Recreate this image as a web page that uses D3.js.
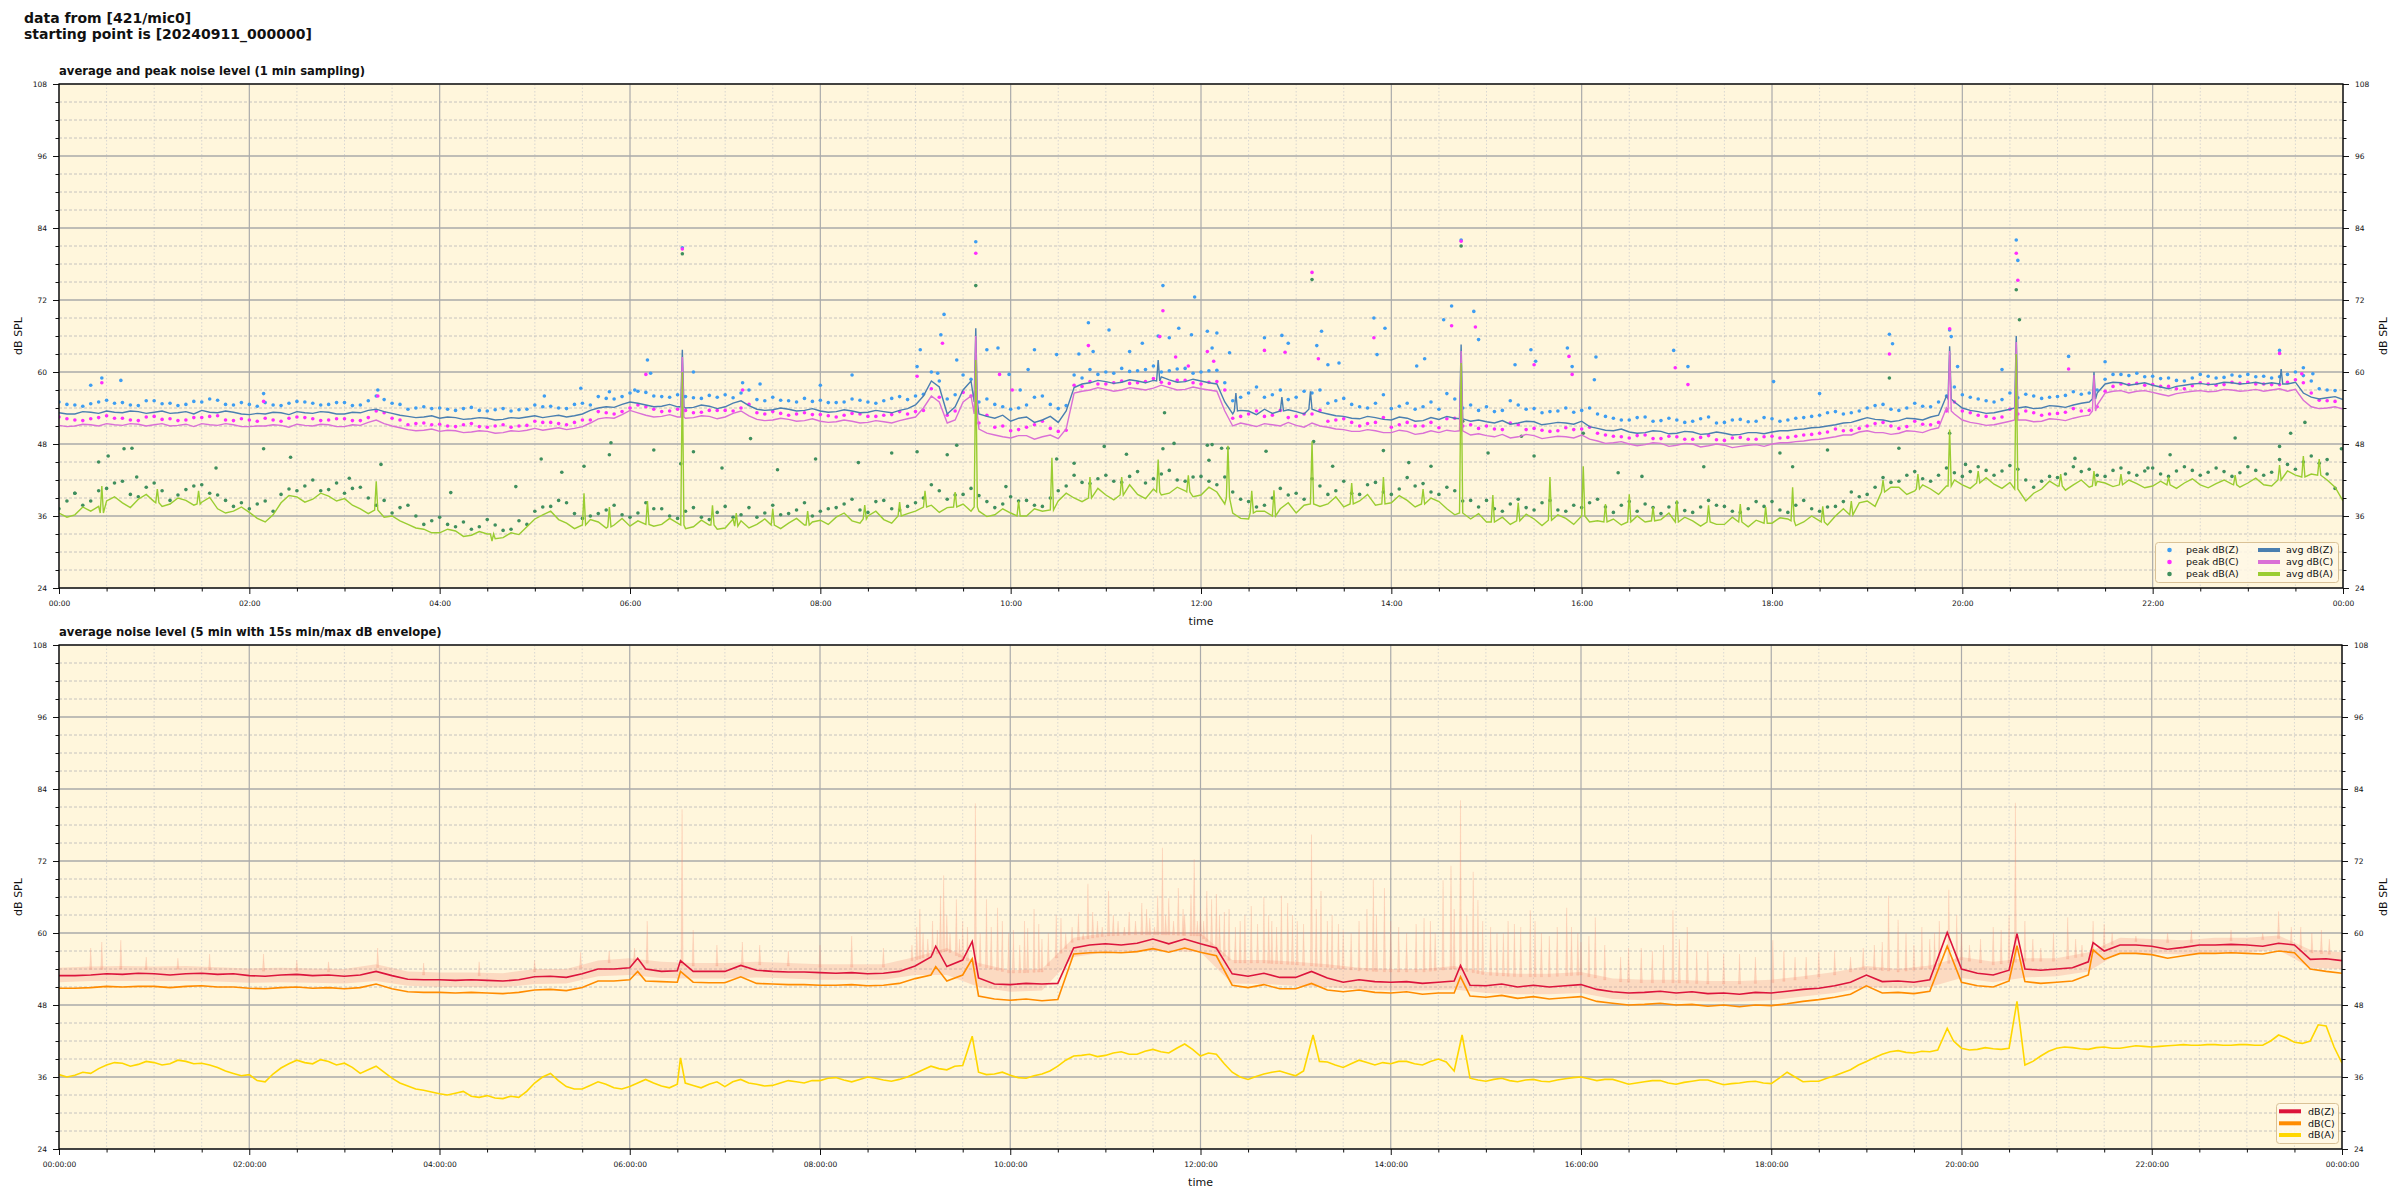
<!DOCTYPE html>
<html><head><meta charset="utf-8">
<script src="https://cdn.jsdelivr.net/npm/d3@7"></script>
<style>body{margin:0;background:#fff}svg{display:block}text{font-family:"DejaVu Sans",sans-serif;fill:#111}</style>
</head><body><svg id="c" width="2400" height="1200"></svg>
<script>
// ---------------- DATA (minutes since 00:00, dB) ----------------
const yTicks = [24, 36, 48, 60, 72, 84, 96, 108];
const xTickMinutes = [0, 120, 240, 360, 480, 600, 720, 840, 960, 1080, 1200, 1320, 1440];
const topXLabels = ["00:00","02:00","04:00","06:00","08:00","10:00","12:00","14:00","16:00","18:00","20:00","22:00","00:00"];
const botXLabels = ["00:00:00","02:00:00","04:00:00","06:00:00","08:00:00","10:00:00","12:00:00","14:00:00","16:00:00","18:00:00","20:00:00","22:00:00","00:00:00"];

// top panel: 1-min averages, read at every 10 min (00:00 .. 24:00)
const avgZ = [
53.2,53.0,53.3,53.5,53.2,53.4, 53.3,53.1,53.4,53.6,53.2,53.3, 52.9,53.0,53.2,53.4,53.1,53.3,
53.0,53.2,53.8,53.1,52.6,52.5, 52.3,52.4,52.2,52.3,52.1,52.3, 52.7,52.6,52.5,53.0,54.0,54.1,
55.0,54.5,54.3,54.2,54.1,54.3, 54.2,55.2,53.8,53.7,53.8,53.6, 53.5,53.4,53.5,53.3,53.4,53.6,
54.5,58.5,53.0,57.0,53.0,52.3, 51.8,52.5,52.0,51.6,57.4,58.2, 58.4,58.3,58.5,58.6,58.7,58.4,
58.5,58.0,53.0,53.5,53.8,53.2, 53.4,54.0,53.0,52.6,52.2,52.4, 52.0,52.3,51.9,52.1,52.3,51.8,
51.7,51.9,51.5,51.7,51.4,51.5, 51.8,50.6,50.2,50.0,49.9,50.1, 49.8,50.0,49.7,49.8,49.6,49.9,
50.0,50.2,50.5,50.8,51.2,51.6, 52.4,52.0,51.9,52.2,52.5,56.0, 54.0,53.4,53.2,53.8,54.2,54.0,
54.3,54.5,55.0,58.0,58.2,58.0, 57.8,57.2,57.8,58.1,58.0,58.2, 58.1,58.0,58.4,58.3,55.8,55.7, 55.4];
// ... and at the 5-min marks in between (00:05 .. 23:55)
const avgZMid = [
53.0,53.4,53.1,53.3,53.5,53.1, 53.5,53.2,53.0,53.3,53.5,53.0, 53.1,53.3,52.9,53.2,53.4,53.0,
53.3,53.6,53.4,52.8,52.4,52.7, 52.5,52.1,52.4,52.0,52.4,52.5, 52.4,52.8,52.7,53.6,54.2,54.6,
54.8,54.2,54.6,54.0,54.5,53.9, 54.8,54.4,53.6,54.0,53.5,53.9, 53.3,53.7,53.2,53.6,53.2,53.9,
56.0,57.5,54.2,58.5,52.6,52.8, 52.3,51.6,52.6,53.5,58.0,58.6, 58.1,58.7,58.2,59.2,58.3,58.8,
58.2,55.0,53.6,52.9,53.1,53.7, 53.0,53.3,52.7,52.3,52.6,52.1, 52.5,51.8,52.4,52.6,51.6,52.0,
51.5,51.3,51.8,51.2,51.6,51.3, 50.9,50.3,50.5,49.8,50.2,49.7, 50.1,49.6,50.0,49.5,49.9,49.7,
50.2,50.4,50.7,51.0,51.5,52.0, 52.1,51.7,52.3,52.0,52.8,55.0, 53.6,53.1,53.5,54.5,53.9,54.4,
54.1,54.8,56.5,58.3,57.8,58.2, 57.5,57.6,58.0,57.9,58.3,58.0, 58.3,58.2,58.0,56.5,55.5,55.9];
const avgC = [
51.1,51.0,51.2,51.4,51.1,51.3, 51.2,51.0,51.3,51.4,51.1,51.2, 50.9,51.0,51.1,51.3,51.0,51.2,
50.9,51.1,52.0,51.0,50.4,50.3, 50.1,50.2,50.0,50.1,49.9,50.1, 50.6,50.5,50.4,50.9,52.2,52.3,
53.6,52.8,52.6,52.5,52.4,52.6, 52.5,53.5,52.1,52.0,52.1,51.9, 51.8,51.7,51.8,51.6,51.7,51.9,
52.5,56.0,51.5,55.0,50.5,49.5, 49.0,49.4,49.2,48.9,56.5,57.0, 57.1,57.0,57.2,57.3,57.4,57.1,
57.2,56.8,51.0,51.2,51.4,51.0, 51.1,51.5,50.8,50.4,50.1,50.2, 49.9,50.1,49.8,49.9,50.1,49.5,
49.4,49.6,49.2,49.4,49.1,49.2, 49.5,48.5,48.2,48.0,47.9,48.1, 47.8,48.0,47.7,47.8,47.6,47.9,
48.0,48.2,48.5,48.8,49.2,49.5, 50.2,49.9,49.8,50.1,50.4,54.0, 52.0,51.4,51.2,51.8,52.0,51.8,
52.1,52.3,52.8,56.5,56.9,56.8, 56.6,56.0,56.6,56.9,56.8,57.0, 56.9,56.8,57.2,57.1,54.2,54.0, 53.8];
const avgCMid = [
50.9,51.3,51.0,51.2,51.4,51.0, 51.4,51.1,50.9,51.2,51.4,50.9, 51.0,51.2,50.8,51.1,51.3,50.9,
51.2,51.6,51.4,50.7,50.2,50.5, 50.3,49.9,50.2,49.8,50.2,50.3, 50.3,50.7,50.6,51.5,52.4,52.9,
53.2,52.5,52.9,52.3,52.7,52.2, 53.1,52.7,51.9,52.3,51.8,52.2, 51.6,52.0,51.5,51.9,51.5,52.2,
54.0,55.0,52.0,56.0,49.8,49.2, 49.4,48.8,49.5,50.5,56.8,57.4, 56.8,57.4,57.0,57.8,57.0,57.5,
57.0,53.5,51.5,50.9,51.2,51.6, 50.8,51.0,50.5,50.1,50.4,49.9, 50.3,49.6,50.2,50.3,49.4,49.7,
49.2,49.0,49.6,48.9,49.3,49.0, 48.8,48.1,48.4,47.7,48.2,47.6, 48.1,47.5,48.0,47.4,47.8,47.6,
48.2,48.4,48.7,49.0,49.5,50.0, 49.9,49.6,50.2,49.9,50.7,53.0, 51.6,51.1,51.5,52.5,51.7,52.2,
51.9,52.6,54.5,56.8,56.5,56.9, 56.3,56.4,56.8,56.7,57.1,56.8, 57.1,57.0,56.8,55.3,53.9,54.2];
const avgA = [
36.5,36.2,36.8,38.5,38.2,38.8, 38.4,38.0,38.6,38.3,37.2,36.8, 36.6,35.0,38.2,39.2,38.8,39.3,
38.9,37.2,37.0,36.0,34.6,33.8, 33.2,33.5,32.8,33.0,32.4,32.9, 35.5,36.8,34.8,34.2,35.0,34.5,
34.3,35.5,34.6,34.8,34.2,34.5, 34.0,35.2,34.6,34.3,34.8,34.5, 35.3,35.8,35.2,36.0,35.4,35.6,
36.8,37.8,37.4,38.0,36.8,36.2, 36.5,36.0,36.8,38.5,39.0,39.8, 39.5,40.2,39.6,40.5,39.8,40.2,
39.5,40.0,36.5,35.5,36.8,37.2, 36.5,38.8,38.0,37.5,38.5,37.8, 38.2,38.6,37.8,38.4,36.2,35.5,
35.0,35.8,35.2,35.5,35.0,35.6, 36.0,35.2,35.5,34.8,35.0,35.4, 34.8,35.2,35.5,34.6,35.0,35.3,
34.8,35.5,35.0,35.2,36.0,37.0, 38.5,39.5,40.8,40.2,40.5,41.0, 41.2,41.5,41.3,41.6,38.5,40.5,
41.0,41.2,40.8,41.5,41.2,41.4, 41.0,41.3,41.5,41.2,41.4,41.3, 41.5,41.2,42.5,42.8,43.0,42.0, 38.5];
const avgAMid = [
35.8,37.5,37.6,39.2,37.4,39.6, 37.6,39.0,37.8,39.1,36.5,37.5, 35.6,36.2,39.4,38.3,39.8,38.5,
37.8,36.4,35.8,35.2,34.0,33.2, 33.8,32.6,33.4,32.2,33.2,34.2, 36.2,35.4,33.9,35.4,34.0,35.6,
35.2,34.3,35.6,33.9,35.3,33.8, 35.5,34.0,35.5,33.9,35.6,35.0, 34.6,36.5,34.8,36.8,34.8,36.4,
37.8,36.6,38.6,36.8,35.9,37.2, 35.8,37.2,35.9,39.8,38.4,40.6, 38.7,41.2,38.9,39.5,40.8,39.2,
40.8,38.0,35.6,36.8,35.8,38.2, 37.8,37.6,39.2,36.6,39.6,37.0, 39.4,37.5,39.0,37.2,35.0,36.4,
36.2,34.6,36.3,34.4,36.2,34.6, 35.0,36.4,34.5,36.0,34.2,36.5, 35.8,34.3,34.6,35.8,34.2,36.2,
35.7,34.4,36.0,34.5,37.2,38.2, 37.6,40.8,39.6,41.2,39.6,42.0, 40.6,42.4,40.6,42.5,39.8,41.8,
40.3,42.0,41.8,40.9,42.0,40.7, 41.8,40.6,42.2,40.7,42.0,40.8, 42.3,41.0,43.5,41.8,44.0,40.8];
// short events in the 1-min averages: [minute, level around, peak]
const avgZEvents = [[393,54.2,63.7],[578,55.0,67.3],[693,58.5,62.0],[742,53.5,56.5],[771,53.5,55.8],[789,53.8,56.8],[884,52.2,64.6],[1192,55.5,64.3],[1234,54.0,66.0],[1283,55.5,60.0],[1401,58.0,60.5]];
const avgCEvents = [[393,52.5,62.5],[578,53.0,66.0],[884,50.2,63.5],[1192,53.5,63.5],[1234,52.0,65.0],[1283,53.5,59.5]];
const avgAEvents = [[27,36.5,41.0],[62,38.2,40.5],[88,38.0,40.2],[200,37.0,41.8],[273,33.0,31.8],[331,34.5,39.8],[347,34.2,37.5],[371,34.6,38.5],[393,34.5,60.0],[412,34.5,37.8],[427,34.3,36.5],[450,34.5,37.2],[472,34.5,36.8],[508,35.5,37.8],[530,36.0,38.3],[546,37.5,40.2],[565,37.5,40.0],[578,37.5,62.0],[605,36.0,38.5],[626,37.0,45.7],[650,39.0,42.5],[670,39.5,42.5],[693,40.0,45.4],[712,40.0,42.8],[737,39.0,47.7],[752,36.5,40.2],[766,36.0,40.3],[790,38.0,48.4],[815,38.0,41.5],[835,38.0,42.5],[860,38.0,40.5],[884,36.5,61.5],[904,35.0,39.5],[920,35.2,38.2],[940,35.3,42.5],[961,36.0,44.3],[975,35.0,38.0],[990,35.0,39.6],[1005,35.2,37.5],[1020,35.0,38.6],[1040,35.0,37.8],[1060,35.0,38.0],[1076,34.8,37.5],[1093,35.2,40.8],[1112,35.0,37.6],[1130,36.2,38.5],[1150,40.0,42.0],[1172,40.5,43.0],[1192,41.0,50.4],[1210,41.5,43.5],[1234,40.5,63.0],[1262,41.0,43.0],[1283,41.0,43.5],[1300,41.2,43.0],[1330,41.2,42.5],[1372,41.2,42.8],[1400,42.0,44.5],[1415,42.5,46.0],[1425,42.8,45.5]];

// peak values read at 00:05, 00:15 ... 23:55
const peakZ = [
54.6,54.3,55.0,54.8,54.5,55.2, 54.7,54.4,55.1,55.5,54.6,54.9, 54.3,54.5,54.8,55.0,54.5,54.9,
54.4,55.2,55.4,54.6,54.0,53.9, 53.8,53.9,53.6,53.7,53.5,53.8, 54.2,54.0,54.6,54.5,55.6,55.9,
56.8,56.0,55.8,55.9,55.6,55.8, 55.7,57.0,55.2,55.3,55.0,55.1, 54.9,55.0,55.3,54.8,55.6,55.4,
56.3,58.5,56.2,58.8,55.5,54.2, 54.0,55.8,54.6,54.4,59.0,59.6, 59.8,60.1,60.4,60.0,60.5,59.8,
60.2,58.2,55.8,57.5,56.2,55.4, 56.8,57.0,55.2,54.6,54.0,56.2, 54.3,53.8,55.0,56.4,54.0,53.6,
53.4,55.2,53.8,53.2,53.5,53.3, 54.0,52.6,52.0,52.4,51.8,52.3, 51.6,52.2,51.5,52.0,51.7,52.4,
51.8,52.3,52.6,53.2,53.0,53.5, 54.4,53.8,54.0,54.3,55.0,57.5, 55.8,55.2,55.4,55.7,56.0,55.8,
56.1,56.3,57.0,59.6,59.4,59.2, 58.9,58.6,59.0,59.3,59.1,59.3, 59.2,59.0,59.6,59.4,57.2,56.9];
// peak values read at 00:00, 00:10 ... 23:50
const peakZ2 = [
55.0,54.5,54.7,55.3,54.9,54.4, 55.2,54.8,54.6,55.0,55.3,54.5, 54.6,54.9,54.4,55.1,54.8,54.6,
54.9,54.5,56.0,54.8,53.8,54.2, 54.0,53.6,54.1,53.5,53.9,53.7, 54.5,54.3,53.9,54.8,55.9,55.5,
56.5,56.6,55.9,56.2,55.7,56.1, 56.2,56.5,55.4,55.8,55.2,55.6, 55.3,54.9,55.5,55.0,55.2,55.9,
56.0,60.0,55.5,59.5,55.0,54.6, 53.8,54.5,56.0,53.9,59.5,60.4, 60.0,60.6,60.2,61.0,60.2,60.6,
60.0,60.3,55.2,56.5,55.8,57.0, 55.8,56.5,54.8,55.6,54.2,54.8, 53.9,54.8,54.2,53.8,55.5,54.5,
54.2,53.6,54.5,53.9,53.4,54.0, 53.6,53.0,52.3,52.0,52.5,51.9, 52.0,51.8,52.5,51.6,52.1,51.8,
52.2,52.0,52.4,52.8,53.4,53.2, 54.0,54.6,53.6,54.8,54.2,56.0, 56.2,55.5,55.0,56.5,56.3,55.6,
55.9,56.7,56.5,58.8,59.6,59.8, 59.3,59.0,58.5,59.6,59.0,59.5, 59.6,59.3,59.2,60.0,58.5,57.0];
const peakC = [
52.2,51.9,52.4,52.3,52.0,52.5, 52.1,51.9,52.4,52.6,52.0,52.2, 51.8,52.0,52.3,52.4,51.9,52.2,
51.9,52.4,53.2,52.0,51.4,51.2, 51.0,51.2,50.9,51.0,50.8,51.1, 51.6,51.4,51.6,52.0,53.2,53.4,
54.5,53.8,53.5,53.6,53.3,53.6, 53.5,54.6,53.0,53.1,53.0,52.9, 52.7,52.8,53.0,52.6,52.9,53.0,
53.6,55.8,53.5,56.0,52.8,51.0, 50.4,51.2,50.6,50.3,57.6,58.0, 58.2,58.1,58.4,58.3,58.6,58.2,
58.3,57.0,52.6,53.5,52.8,52.4, 53.0,53.6,52.0,51.6,51.4,52.4, 51.2,51.0,51.6,52.2,51.0,50.6,
50.5,51.5,50.4,50.3,50.2,50.4, 50.8,49.5,49.2,49.4,48.9,49.3, 48.8,49.1,48.7,49.0,48.8,49.2,
49.0,49.3,49.6,50.0,50.2,50.6, 51.4,51.0,50.9,51.3,51.6,55.0, 53.2,52.6,52.5,53.0,53.2,53.0,
53.3,53.5,54.2,57.6,57.9,57.8, 57.6,57.2,57.7,58.0,57.9,58.1, 58.0,57.9,58.3,58.2,55.3,55.1];
const peakC2 = [
52.5,52.0,52.2,52.7,52.3,51.9, 52.6,52.2,52.0,52.4,52.7,51.9, 52.0,52.3,51.8,52.5,52.2,52.0,
52.2,51.9,53.5,52.3,51.2,51.5, 51.3,50.9,51.4,50.8,51.2,51.0, 51.8,51.6,51.2,52.0,53.4,53.0,
54.0,54.2,53.4,53.8,53.2,53.6, 53.6,54.0,53.2,53.4,52.8,53.2, 52.9,52.5,53.1,52.6,52.8,53.4,
53.4,57.2,52.8,56.6,51.5,50.8, 50.2,50.8,51.8,50.1,57.8,58.4, 58.0,58.5,58.2,58.9,58.1,58.6,
58.0,58.4,52.3,53.0,52.6,53.6, 52.6,53.0,51.8,52.2,51.0,51.6, 50.8,51.6,51.0,50.7,52.3,51.2,
51.0,50.4,51.2,50.6,50.1,50.7, 50.5,49.8,49.3,49.0,49.5,48.9, 49.2,48.8,49.4,48.6,49.1,48.8,
49.3,49.1,49.5,49.8,50.5,50.3, 51.0,51.6,50.6,51.8,51.2,53.5, 53.5,52.8,52.3,53.8,53.5,52.8,
53.1,53.9,53.6,56.8,58.0,58.1, 57.9,57.6,57.2,58.2,57.8,58.3, 58.3,58.0,57.9,58.7,56.5,55.2];
const peakA = [
38.5,37.8,40.2,41.5,39.6,40.8, 40.2,39.5,41.0,39.8,38.6,38.2, 38.0,36.8,40.5,41.0,40.2,41.5,
40.6,39.0,38.6,37.4,36.0,35.2, 34.6,35.0,34.2,34.5,33.8,34.6, 37.5,38.6,36.4,36.0,37.0,36.2,
36.5,37.2,36.0,36.8,35.8,36.6, 35.8,37.4,36.5,36.2,37.0,36.0, 37.2,38.0,37.0,38.4,37.2,37.6,
39.0,40.2,39.5,40.6,38.4,38.0, 38.5,37.8,39.0,41.0,41.6,42.2, 41.8,42.6,41.5,43.0,42.0,42.5,
41.8,42.5,38.8,37.5,39.0,39.5, 38.8,41.0,40.2,39.8,41.2,40.0, 40.5,41.0,40.0,40.8,38.5,37.5,
37.2,38.0,37.4,38.2,37.0,37.8, 38.2,37.5,37.8,36.8,37.4,37.5, 36.9,37.5,37.8,36.8,37.2,37.6,
37.0,37.8,37.2,37.5,38.4,39.2, 40.8,41.6,42.8,42.2,42.8,43.2, 43.4,43.6,43.5,43.8,40.8,42.6,
43.0,43.4,42.8,43.6,43.2,43.5, 43.0,43.5,43.6,43.3,43.4,43.2, 43.6,43.3,44.6,45.0,44.8,40.6];
const peakA2 = [
37.2,39.8,38.5,40.6,41.8,39.2, 41.5,38.6,40.4,41.2,39.5,37.6, 37.2,38.5,39.6,40.2,42.0,40.4,
39.8,40.8,37.8,36.5,37.8,34.6, 35.8,34.2,33.8,35.4,33.6,35.2, 36.8,37.6,38.2,35.6,36.4,37.8,
35.8,38.2,37.2,35.6,37.4,35.4, 37.6,36.2,35.8,37.8,36.4,38.2, 36.8,37.4,38.8,36.6,38.6,37.0,
38.2,41.2,38.8,39.6,39.4,37.4, 39.2,38.6,37.6,40.2,42.8,41.4, 42.8,41.6,43.4,42.2,43.6,41.8,
42.6,41.2,40.0,38.4,37.8,40.6, 39.8,42.2,39.6,41.8,39.6,41.6, 39.6,42.4,41.4,39.6,40.2,38.6,
38.6,36.8,38.8,37.0,38.6,36.8, 37.4,38.8,36.6,38.4,38.0,36.4, 38.2,36.6,38.6,37.6,36.6,38.4,
38.4,36.6,38.6,36.8,37.6,40.0, 39.6,42.4,41.8,43.4,41.8,44.0, 42.6,44.2,42.8,44.4,42.0,41.8,
42.4,44.2,43.8,42.6,44.0,42.8, 44.0,42.6,44.2,42.8,44.0,42.6, 44.2,42.8,45.4,43.8,46.0,43.0];
// isolated peak readings [minute, dB]
const peakZExtra = [[20,57.8],[27,59.0],[39,58.6],[129,56.4],[201,57.0],[306,56.0],[329,57.3],[347,56.7],[363,57.0],[371,62.0],[373,59.8],[393,80.7],[400,60.0],[431,58.2],[442,58.0],[480,57.8],[500,59.5],[541,60.9],[543,63.7],[554,59.8],[556,66.2],[558,69.6],[566,62.0],[578,81.7],[585,63.7],[592,64.0],[599,59.6],[606,57.0],[611,60.4],[615,63.7],[629,62.9],[643,63.0],[649,68.2],[652,63.4],[662,67.0],[675,63.4],[683,64.8],[693,66.0],[696,74.4],[700,65.7],[706,67.3],[714,66.2],[716,72.5],[724,66.8],[727,64.0],[730,66.5],[738,63.2],[760,65.7],[771,66.1],[775,64.8],[793,64.4],[796,66.8],[800,61.2],[807,61.5],[829,69.0],[831,62.9],[836,67.3],[856,61.0],[861,62.2],[873,68.7],[878,71.0],[884,82.0],[892,70.1],[895,65.4],[918,61.2],[928,63.7],[931,61.8],[951,64.0],[954,60.9],[968,58.7],[969,62.5],[1018,63.6],[1027,60.9],[1081,58.4],[1110,56.4],[1154,66.3],[1156,64.7],[1192,67.0],[1193,65.9],[1197,60.9],[1225,60.4],[1234,82.0],[1235,78.6],[1267,62.6],[1290,61.7],[1400,63.6],[1415,60.7],[1421,59.7]];
const peakCExtra = [[27,58.2],[129,55.1],[201,56.0],[370,59.6],[393,80.5],[431,57.0],[541,59.3],[557,64.8],[578,79.8],[593,59.6],[601,57.0],[649,64.4],[694,65.9],[696,70.2],[704,62.5],[712,61.0],[724,63.4],[728,61.8],[760,63.6],[773,63.3],[790,76.6],[794,62.2],[829,65.7],[878,67.7],[884,81.8],[893,67.5],[930,61.2],[952,62.6],[954,59.6],[1019,60.7],[1027,57.9],[1154,63.0],[1192,67.2],[1234,79.8],[1235,75.3],[1267,60.5],[1400,63.1],[1414,59.7]];
const peakAExtra = [[10,39.8],[25,45.0],[31,46.0],[41,47.2],[46,47.3],[49,42.5],[99,44.0],[129,47.2],[146,45.8],[183,42.3],[203,44.6],[247,39.9],[288,40.9],[304,45.5],[317,43.3],[331,44.3],[347,46.2],[348,48.2],[375,47.0],[392,44.7],[393,79.7],[400,46.7],[418,44.0],[436,48.9],[453,43.7],[477,45.5],[504,44.9],[525,46.5],[541,46.7],[560,46.2],[566,47.8],[578,74.4],[597,40.9],[629,45.5],[640,44.8],[659,47.6],[673,46.3],[696,47.2],[697,53.2],[703,48.1],[724,47.8],[725,45.3],[727,47.9],[733,47.3],[737,47.3],[761,46.8],[790,75.4],[791,48.4],[803,44.3],[835,46.9],[851,44.9],[865,44.3],[884,81.0],[885,51.8],[901,46.5],[922,49.3],[930,46.0],[961,49.8],[983,43.2],[998,42.6],[1037,44.2],[1085,46.5],[1093,44.2],[1115,47.0],[1154,59.0],[1160,47.3],[1192,49.8],[1202,44.6],[1234,73.7],[1236,68.7],[1271,45.6],[1317,44.0],[1331,46.2],[1372,49.0],[1400,47.6],[1407,49.8],[1416,51.6],[1430,45.4],[1439,47.2]];

// bottom panel: 5-min averages read at every 10 min (00:00 .. 24:00)
const lineZ = [
52.9,52.9,53.0,53.2,53.1,53.3, 53.2,53.0,53.2,53.3,53.1,53.2, 52.9,52.8,53.0,53.1,52.9,53.0,
52.8,53.0,53.6,52.9,52.3,52.2, 52.2,52.1,52.2,52.1,52.0,52.2, 52.7,52.8,52.6,53.2,54.0,54.0,
54.2,54.0,53.6,53.7,53.6,53.6, 53.6,54.6,53.8,53.6,53.5,53.5, 53.4,53.3,53.4,53.2,53.3,53.6,
54.5,56.0,54.4,55.5,52.5,51.5, 51.4,51.6,51.5,51.6,57.5,58.0, 58.2,58.0,58.3,59.0,58.2,59.0,
58.2,57.5,53.2,52.8,53.3,52.6, 52.6,53.6,52.5,51.8,52.2,51.9, 51.8,51.9,51.6,51.8,52.0,51.3,
51.2,51.5,51.0,51.3,51.0,51.2, 51.4,50.6,50.2,50.0,50.1,50.3, 50.0,50.2,49.9,50.0,49.8,50.1,
50.0,50.3,50.6,50.8,51.2,51.8, 53.0,51.9,52.0,51.8,52.2,55.0, 54.0,53.3,53.0,53.8,54.0,53.8,
54.0,54.2,55.2,57.0,58.0,58.0, 57.8,57.3,57.6,58.0,58.0,58.1, 58.0,57.8,58.3,58.0,55.6,55.7, 55.4];
const lineC = [
50.8,50.8,50.9,51.1,51.0,51.1, 51.1,50.9,51.1,51.2,51.0,51.0, 50.8,50.7,50.9,51.0,50.8,50.9,
50.7,50.9,51.5,50.7,50.2,50.1, 50.1,50.0,50.1,50.0,49.9,50.1, 50.5,50.6,50.4,50.9,52.0,52.0,
52.2,52.0,51.9,51.8,51.8,51.7, 51.7,52.7,51.6,51.5,51.4,51.4, 51.3,51.3,51.4,51.2,51.3,51.6,
52.4,53.0,52.0,53.0,49.5,49.0, 48.8,49.0,48.7,48.9,56.5,56.7, 56.8,56.7,56.9,57.4,56.8,57.5,
56.8,56.2,51.3,50.9,51.4,50.7, 50.7,51.6,50.5,50.2,50.5,50.1, 50.0,50.2,49.8,50.0,50.0,49.5,
49.3,49.6,49.1,49.4,49.0,49.2, 49.4,48.6,48.3,48.0,48.1,48.3, 48.0,48.1,47.8,48.0,47.7,48.0,
47.9,48.2,48.6,48.9,49.3,49.8, 51.2,50.0,50.1,49.9,50.3,52.5, 51.8,51.2,51.0,52.0,51.9,51.6,
51.8,52.0,53.0,55.6,56.6,56.6, 56.4,55.8,56.2,56.6,56.6,56.7, 56.6,56.5,57.0,56.7,54.0,53.6, 53.3];
const lineA = [
36.4,36.3,36.6,38.0,38.3,38.1, 38.4,38.2,38.6,38.3,37.6,36.6, 36.4,35.2,37.5,38.8,38.2,38.6,
38.3,36.6,37.8,35.8,34.5,33.8, 33.2,33.3,32.8,32.9,32.4,32.6, 35.0,36.6,34.4,34.0,35.2,34.2,
34.4,35.6,34.5,34.8,34.6,34.8, 34.4,35.6,34.8,34.6,35.4,35.0, 35.4,35.9,35.2,36.0,35.5,35.6,
36.6,37.8,37.2,37.9,36.8,36.5, 36.3,35.8,36.5,37.8,39.5,39.8, 39.6,40.2,39.8,40.6,40.0,41.5,
39.5,39.8,36.8,35.6,36.5,37.0, 36.2,38.0,38.5,37.6,38.8,38.0, 38.2,38.6,38.0,39.0,37.0,35.8,
35.3,35.8,35.2,35.6,35.2,35.7, 36.0,35.4,35.6,34.8,35.2,35.4, 34.8,35.3,35.5,34.7,35.0,35.3,
34.9,36.8,35.2,35.3,36.2,37.2, 38.6,39.8,40.4,40.0,40.2,41.0, 40.8,40.6,40.7,40.8,38.0,39.5,
40.8,40.9,40.6,41.0,40.8,41.2, 41.0,41.2,41.4,41.3,41.4,41.3, 41.4,41.3,43.0,41.8,42.0,44.5, 38.3];
// dB(A) 5-min averages at 00:05 .. 23:55
const lineAMid = [
36.0,36.8,37.4,38.4,37.8,38.6, 38.0,38.8,38.2,38.0,37.0,36.2, 35.4,36.5,38.2,38.4,38.9,38.0,
37.6,37.2,36.8,35.0,34.0,33.5, 33.0,33.6,32.6,32.5,32.8,33.6, 36.0,35.4,34.0,34.6,34.8,34.0,
35.0,35.0,34.2,35.0,34.2,35.2, 35.2,35.0,34.5,35.0,35.2,35.4, 35.8,35.5,35.6,35.8,35.3,36.0,
37.2,37.4,37.8,37.2,36.4,36.8, 35.9,36.2,37.0,38.8,39.6,39.4, 40.0,39.8,40.3,40.2,40.8,40.6,
40.0,38.2,36.0,36.1,36.8,36.6, 37.0,38.6,38.0,38.2,38.4,38.4, 38.6,38.2,38.6,38.5,36.4,35.5,
35.6,35.4,35.5,35.3,35.5,35.9, 35.7,35.6,35.2,35.0,35.4,35.0, 35.1,35.5,35.1,34.9,35.2,35.0,
35.8,36.0,35.3,35.8,36.7,38.0, 39.2,40.2,40.1,40.3,40.5,42.0, 40.5,40.9,40.6,41.5,38.6,40.3,
41.0,40.7,40.9,40.8,41.0,41.1, 41.1,41.3,41.3,41.4,41.3,41.4, 41.3,42.0,42.5,41.6,43.0,41.0];
const lineZEvents = [[365,55.8],[392,55.4],[553,57.8],[576,58.6],[884,54.6],[1191,60.1],[1235,59.9],[1283,58.4]];
const lineCEvents = [[365,53.6],[392,53.6],[553,54.4],[576,55.7],[884,52.7],[1191,57.8],[1235,57.9],[1283,57.2]];
const lineAEvents = [[392,39.2],[576,42.8],[791,43.0],[885,43.0],[1191,44.1],[1235,48.6],[1425,44.7]];
// 15 s min/max envelope, read every 20 min (00:00 .. 24:00)
const envHi = [
54.2,54.4,54.5,54.4,54.5,54.3, 54.1,54.2,54.1,54.0,54.8,53.6, 53.4,53.4,53.3,54.0,54.0,55.4,
55.8,55.2,55.0,55.0,55.2,55.0, 54.8,54.8,54.8,56.0,57.5,55.0, 53.8,54.0,59.2,60.0,60.2,60.2,
60.0,55.5,55.5,55.2,54.8,54.2, 54.0,54.0,54.5,53.5,53.2,53.2, 53.5,52.4,52.2,52.2,52.0,52.0,
52.2,52.8,53.5,54.5,54.0,54.6, 56.0,55.2,55.8,55.8,56.8,59.2, 59.0,58.8,59.2,59.2,59.6,57.2, 56.8];
const envLo = [
51.8,52.0,52.0,52.0,52.0,51.9, 51.7,51.8,51.7,51.6,52.0,51.2, 51.0,51.0,50.9,51.5,51.6,52.8,
53.0,52.5,52.4,52.4,52.6,52.4, 52.2,52.2,52.2,53.0,53.0,51.0, 50.2,50.4,56.0,56.8,57.0,57.0,
56.8,51.6,51.5,51.2,51.0,50.6, 50.4,50.4,50.6,50.0,49.8,49.8, 50.0,49.0,48.8,48.8,48.6,48.6,
48.8,49.4,50.0,51.0,50.8,51.0, 52.5,51.8,52.6,52.8,53.6,56.8, 56.6,56.4,56.8,56.8,57.2,54.2, 54.0];
// short maxima of the envelope [minute, dB]
const envSpikes = [[20,57.5],[27,58.5],[39,58.8],[55,56.0],[75,55.8],[95,56.5],[129,56.5],[150,55.5],[170,55.2],[201,57.5],[230,55.0],[265,55.2],[300,55.5],[329,56.8],[347,57.0],
[363,57.5],[371,62.0],[393,80.6],[400,60.5],[415,58.0],[431,58.5],[442,58.0],[460,57.0],[480,58.0],[500,59.5],[520,57.5],
[538,58.0],[541,61.0],[543,64.0],[545,60.0],[548,59.0],[551,62.0],[554,60.5],[556,66.2],[558,69.6],[560,63.0],[562,60.0],[566,65.6],[568,59.0],[570,62.0],[573,61.0],[578,81.6],[581,60.0],[585,65.6],[588,61.0],[592,64.2],[595,62.0],[599,60.0],[602,60.5],[606,58.0],[609,62.0],[611,60.8],[615,64.0],[618,61.5],[620,59.0],[624,60.0],[629,63.0],[632,62.5],[635,60.0],[639,61.0],[643,63.2],[646,60.0],[649,68.2],[652,63.5],[655,62.0],[658,61.0],[662,67.0],[665,63.0],[668,62.0],[672,61.0],[675,63.5],[679,62.0],[683,65.0],[686,64.0],[688,62.5],[691,61.0],[693,66.2],[696,74.2],[698,63.0],[700,65.8],[703,62.0],[706,67.5],[709,64.0],[710,63.0],[714,66.4],[716,72.3],[718,62.0],[720,64.0],
[722,62.0],[724,67.0],[727,65.6],[730,66.5],[732,63.0],[735,63.5],[738,64.0],[742,61.0],[745,62.0],[748,63.0],[752,64.5],[756,61.5],[760,66.0],[763,63.0],[765,62.0],[768,61.0],[771,66.2],[775,65.0],[778,63.0],[781,62.0],[785,61.5],[790,76.4],[793,64.0],[796,67.0],[800,62.0],[803,63.0],[807,61.5],[810,60.5],[815,60.0],[820,62.0],[825,64.0],[829,69.0],[831,63.0],[836,67.5],[840,62.0],[845,61.0],[850,60.0],[856,61.5],[861,62.5],[865,62.0],[868,60.0],[873,68.8],[878,71.2],[880,64.0],[884,82.1],[888,63.0],[892,70.2],[895,65.5],[898,62.0],[903,61.0],[907,60.0],[911,60.0],[914,62.0],[918,61.5],[922,61.0],[928,63.8],[931,62.0],[935,60.0],[940,59.5],[945,61.0],[951,64.2],[954,61.0],[958,60.0],[960,58.5],[965,59.5],[969,62.6],[975,58.0],
[985,56.0],[990,57.5],[998,57.5],[1005,57.0],[1012,58.0],[1018,63.8],[1022,59.0],[1027,61.0],[1033,57.0],[1040,57.0],[1050,56.5],[1060,56.5],[1070,56.0],[1081,58.8],[1088,57.0],[1095,56.0],[1102,56.0],[1110,56.8],[1120,57.0],[1130,56.0],[1138,57.5],[1145,58.0],[1150,58.5],[1154,66.2],[1160,62.2],[1165,60.0],[1170,58.0],[1175,61.0],[1180,59.0],[1183,60.0],[1186,62.0],[1192,67.2],[1197,63.0],[1200,60.0],[1205,58.0],[1212,59.0],[1220,61.0],[1225,60.5],[1230,63.0],[1234,81.7],[1240,62.0],[1245,59.0],[1250,57.5],[1258,60.0],[1267,62.6],[1272,59.0],[1276,58.0],[1283,62.0],[1290,61.5],[1295,60.0],[1310,59.5],[1330,60.0],[1345,60.5],[1370,60.5],[1390,60.0],[1400,63.6],[1408,61.0],[1414,61.0],[1421,60.0],[1427,60.5],[1432,59.0]];

// ---------------- RENDER ----------------
const svg = d3.select('#c');
const BG = '#fff6dc';
const every = (arr, t0, step) => arr.map((v, i) => [t0 + i * step, v]);
const merge2 = (a, b) => a.concat(b).sort((p, q) => p[0] - q[0]);
function withSpikes(base, ev) {
  const pts = base.filter(([t]) => !ev.some(e => Math.abs(e[0] - t) <= 1));
  ev.forEach(([t, b, p]) => pts.push([t - 1, b], [t, p], [t + 1, b]));
  return pts.sort((a, b) => a[0] - b[0]);
}
function withPoints(base, ev) {
  const pts = base.filter(([t]) => !ev.some(e => Math.abs(e[0] - t) <= 1));
  ev.forEach(e => pts.push([e[0], e[1]]));
  return pts.sort((a, b) => a[0] - b[0]);
}

svg.append('text').attr('x', 24).attr('y', 23).style('font-size', '14px').style('font-weight', 'bold').text('data from [421/mic0]');
svg.append('text').attr('x', 24).attr('y', 39).style('font-size', '14px').style('font-weight', 'bold').text('starting point is [20240911_000000]');

function panel(o) {
  const g = svg.append('g');
  const x = d3.scaleLinear().domain([0, 1440]).range([o.L, o.R]);
  const y = d3.scaleLinear().domain([24, 108]).range([o.B, o.T]);
  g.append('rect').attr('x', o.L).attr('y', o.T).attr('width', o.R - o.L).attr('height', o.B - o.T).attr('fill', BG);
  const minY = d3.range(24, 109, 3).filter(v => v % 12);
  const minX = d3.range(0, 1441, 30).filter(v => v % 120);
  g.selectAll(null).data(minX).enter().append('line').attr('x1', d => x(d)).attr('x2', d => x(d)).attr('y1', o.T).attr('y2', o.B)
    .attr('stroke', '#cfcfcf').attr('stroke-width', 0.8).attr('stroke-dasharray', '1.5,2');
  g.selectAll(null).data(minY).enter().append('line').attr('y1', d => y(d)).attr('y2', d => y(d)).attr('x1', o.L).attr('x2', o.R)
    .attr('stroke', '#b8b8b8').attr('stroke-width', 0.8).attr('stroke-dasharray', '3,2');
  g.selectAll(null).data(xTickMinutes).enter().append('line').attr('x1', d => x(d)).attr('x2', d => x(d)).attr('y1', o.T).attr('y2', o.B)
    .attr('stroke', '#aaaaaa').attr('stroke-width', 1.2);
  g.selectAll(null).data(yTicks).enter().append('line').attr('y1', d => y(d)).attr('y2', d => y(d)).attr('x1', o.L).attr('x2', o.R)
    .attr('stroke', '#aaaaaa').attr('stroke-width', 1.6);
  const clipId = 'clip' + o.T;
  svg.append('clipPath').attr('id', clipId).append('rect').attr('x', o.L).attr('y', o.T).attr('width', o.R - o.L).attr('height', o.B - o.T);
  const data = svg.append('g').attr('clip-path', `url(#${clipId})`);
  const style = s => { s.select('.domain').remove(); s.selectAll('text').style('font-size', '7.5px').style('font-family', '"DejaVu Sans",sans-serif').attr('fill', '#111'); s.selectAll('line').attr('stroke', '#111'); };
  svg.append('g').attr('transform', `translate(${o.L},0)`).call(d3.axisLeft(y).tickValues(yTicks).tickSize(6).tickPadding(6).tickFormat(d3.format('d'))).call(style);
  svg.append('g').attr('transform', `translate(${o.L},0)`).call(d3.axisLeft(y).tickValues(minY).tickSize(3.5).tickFormat('')).call(style);
  svg.append('g').attr('transform', `translate(${o.R},0)`).call(d3.axisRight(y).tickValues(yTicks).tickSize(6).tickPadding(6).tickFormat(d3.format('d'))).call(style);
  svg.append('g').attr('transform', `translate(${o.R},0)`).call(d3.axisRight(y).tickValues(minY).tickSize(3.5).tickFormat('')).call(style);
  svg.append('g').attr('transform', `translate(0,${o.B})`).call(d3.axisBottom(x).tickValues(xTickMinutes).tickSize(6).tickPadding(6.5).tickFormat((d, i) => o.labels[i])).call(style);
  svg.append('g').attr('transform', `translate(0,${o.B})`).call(d3.axisBottom(x).tickValues(minX).tickSize(3.5).tickFormat('')).call(style);
  svg.append('rect').attr('x', o.L).attr('y', o.T).attr('width', o.R - o.L).attr('height', o.B - o.T).attr('fill', 'none').attr('stroke', '#000').attr('stroke-width', 1.3);
  svg.append('text').attr('x', o.L).attr('y', o.T - 9).style('font-size', '11.6px').style('font-weight', 'bold').text(o.title);
  svg.append('text').attr('x', (o.L + o.R) / 2).attr('y', o.B + 37).attr('text-anchor', 'middle').style('font-size', '11px').text('time');
  const cy = (o.T + o.B) / 2;
  svg.append('text').attr('transform', `translate(22,${cy}) rotate(-90)`).attr('text-anchor', 'middle').style('font-size', '11px').text('dB SPL');
  svg.append('text').attr('transform', `translate(2387,${cy}) rotate(-90)`).attr('text-anchor', 'middle').style('font-size', '11px').text('dB SPL');
  return { x, y, data };
}

// ---- top panel
const P1 = panel({ L: 59, R: 2343, T: 84, B: 588, labels: topXLabels, title: 'average and peak noise level (1 min sampling)' });
const dots = (a, b, extra, color) => {
  const pts = every(a, 5, 10).concat(every(b, 0, 10), extra);
  P1.data.append('g').selectAll('circle').data(pts).enter().append('circle')
    .attr('cx', d => P1.x(d[0])).attr('cy', d => P1.y(d[1])).attr('r', 1.8).attr('fill', color);
};
dots(peakZ, peakZ2, peakZExtra, '#3d9df2');
dots(peakC, peakC2, peakCExtra, '#ff2bff');
dots(peakA, peakA2, peakAExtra, '#3f8f5e');
const line1 = d3.line().x(d => P1.x(d[0])).y(d => P1.y(d[1]));
P1.data.append('path').datum(withSpikes(merge2(every(avgZ, 0, 10), every(avgZMid, 5, 10)), avgZEvents)).attr('d', line1).attr('fill', 'none').attr('stroke', '#4a7fb0').attr('stroke-width', 1.4);
P1.data.append('path').datum(withSpikes(merge2(every(avgC, 0, 10), every(avgCMid, 5, 10)), avgCEvents)).attr('d', line1).attr('fill', 'none').attr('stroke', '#da70d6').attr('stroke-width', 1.4);
P1.data.append('path').datum(withSpikes(merge2(every(avgA, 0, 10), every(avgAMid, 5, 10)), avgAEvents)).attr('d', line1).attr('fill', 'none').attr('stroke', '#9acd32').attr('stroke-width', 1.4);

(function () {
  const g = svg.append('g');
  g.append('rect').attr('x', 2155.5).attr('y', 542.5).attr('width', 183).attr('height', 40).attr('rx', 3).attr('fill', '#fff8e6').attr('fill-opacity', 0.85).attr('stroke', '#d9c196');
  const rows = [550, 562, 574];
  const pk = [['peak dB(Z)', '#3d9df2'], ['peak dB(C)', '#ff2bff'], ['peak dB(A)', '#3f8f5e']];
  const av = [['avg dB(Z)', '#4a7fb0'], ['avg dB(C)', '#da70d6'], ['avg dB(A)', '#9acd32']];
  pk.forEach((p, i) => {
    g.append('circle').attr('cx', 2169.5).attr('cy', rows[i]).attr('r', 2.3).attr('fill', p[1]);
    g.append('text').attr('x', 2186).attr('y', rows[i] + 3.4).style('font-size', '9.5px').text(p[0]);
  });
  av.forEach((p, i) => {
    g.append('line').attr('x1', 2258).attr('x2', 2280).attr('y1', rows[i]).attr('y2', rows[i]).attr('stroke', p[1]).attr('stroke-width', 4);
    g.append('text').attr('x', 2286).attr('y', rows[i] + 3.4).style('font-size', '9.5px').text(p[0]);
  });
})();

// ---- bottom panel
const P2 = panel({ L: 59, R: 2342, T: 645, B: 1149, labels: botXLabels, title: 'average noise level (5 min with 15s min/max dB envelope)' });
const envPts = envHi.map((v, i) => [i * 20, envLo[i], v]);
P2.data.append('path').datum(envPts)
  .attr('d', d3.area().x(d => P2.x(d[0])).y0(d => P2.y(d[1])).y1(d => P2.y(d[2])))
  .attr('fill', '#f58a72').attr('fill-opacity', 0.26);
P2.data.append('g').selectAll('path').data(envSpikes).enter().append('path')
  .attr('d', ([t, v]) => {
    const i = Math.min(Math.floor(t / 20), envHi.length - 2), f = (t - i * 20) / 20;
    const base = envHi[i] + (envHi[i + 1] - envHi[i]) * f - 0.5;
    return `M${P2.x(t - 0.7)},${P2.y(base)}L${P2.x(t)},${P2.y(v)}L${P2.x(t + 0.7)},${P2.y(base)}Z`;
  })
  .attr('fill', '#f58a72').attr('fill-opacity', 0.3).attr('stroke', '#f58a72').attr('stroke-opacity', 0.25).attr('stroke-width', 0.6);
const line2 = d3.line().x(d => P2.x(d[0])).y(d => P2.y(d[1]));
P2.data.append('path').datum(withPoints(every(lineZ, 0, 10), lineZEvents)).attr('d', line2).attr('fill', 'none').attr('stroke', '#dc143c').attr('stroke-width', 1.6);
P2.data.append('path').datum(withPoints(every(lineC, 0, 10), lineCEvents)).attr('d', line2).attr('fill', 'none').attr('stroke', '#ff8c00').attr('stroke-width', 1.6);
P2.data.append('path').datum(withPoints(merge2(every(lineA, 0, 10), every(lineAMid, 5, 10)), lineAEvents)).attr('d', line2).attr('fill', 'none').attr('stroke', '#ffd700').attr('stroke-width', 1.6);

(function () {
  const g = svg.append('g');
  g.append('rect').attr('x', 2276.5).attr('y', 1103.5).attr('width', 62).attr('height', 40).attr('rx', 3).attr('fill', '#fff8e6').attr('fill-opacity', 0.85).attr('stroke', '#d9c196');
  const rows = [1111.3, 1123.3, 1135];
  [['dB(Z)', '#dc143c'], ['dB(C)', '#ff8c00'], ['dB(A)', '#ffd700']].forEach((p, i) => {
    g.append('line').attr('x1', 2279).attr('x2', 2301).attr('y1', rows[i]).attr('y2', rows[i]).attr('stroke', p[1]).attr('stroke-width', 4);
    g.append('text').attr('x', 2308).attr('y', rows[i] + 3.4).style('font-size', '9.5px').text(p[0]);
  });
})();
</script></body></html>
